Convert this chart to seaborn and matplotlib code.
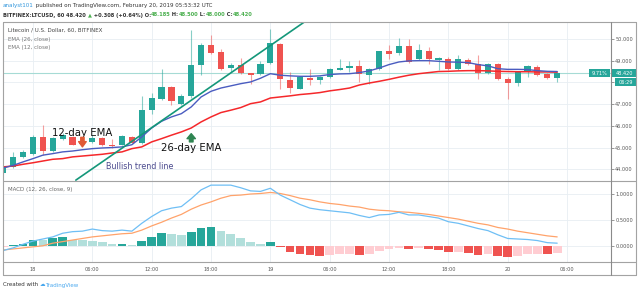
import numpy as np
import pandas as pd
import matplotlib
matplotlib.use('Agg')
import matplotlib.pyplot as plt
import seaborn as sns
from matplotlib.lines import Line2D
from matplotlib.patches import Rectangle

# LTCUSD hourly candles, Bitfinex, 17 Feb 21:00 -> 20 Feb 05:00 (UTC)
times = pd.date_range('2019-02-17 21:00', '2019-02-20 05:00', freq='h')

opens = [43.85, 44.12, 44.55, 44.72, 45.49, 44.83, 45.38, 45.49, 45.30, 45.26,
         45.44, 45.13, 45.13, 45.49, 45.23, 46.72, 47.25, 47.79, 47.02, 47.38,
         48.82, 49.74, 49.40, 48.66, 48.79, 48.43, 48.40, 48.91, 49.78, 48.10,
         47.71, 48.20, 48.10, 48.25, 48.59, 48.68, 48.74, 48.33, 48.63, 49.43,
         49.37, 49.68, 49.07, 49.45, 49.02, 49.09, 48.60, 49.02, 48.86, 48.45,
         48.86, 48.14, 47.97, 48.51, 48.71, 48.38, 48.185]
highs = [44.20, 44.80, 44.90, 45.60, 46.03, 45.50, 45.65, 45.55, 45.35, 45.57,
         45.50, 45.38, 45.58, 45.55, 47.38, 47.53, 48.63, 47.85, 47.48, 50.40,
         49.80, 50.20, 49.53, 48.90, 49.13, 48.45, 48.97, 50.45, 49.80, 48.48,
         48.30, 48.63, 48.28, 48.66, 49.09, 48.97, 49.02, 48.65, 49.45, 49.74,
         50.05, 50.01, 49.78, 49.63, 49.16, 49.17, 49.28, 49.13, 49.28, 48.90,
         48.90, 48.25, 48.52, 48.80, 48.79, 48.42, 48.50]
lows = [43.78, 44.05, 44.50, 44.65, 44.68, 44.80, 45.35, 45.10, 45.10, 45.20,
        45.05, 45.00, 45.10, 45.20, 45.18, 46.56, 47.18, 46.98, 46.98, 47.28,
        48.36, 49.30, 48.55, 48.48, 48.40, 47.94, 48.35, 48.85, 47.71, 47.53,
        47.68, 47.90, 47.94, 48.20, 48.55, 48.48, 48.02, 47.94, 48.58, 49.09,
        49.25, 48.90, 49.02, 48.86, 48.56, 48.55, 48.55, 48.82, 48.14, 48.40,
        48.10, 47.25, 47.84, 48.25, 48.30, 48.15, 48.00]
closes = [44.15, 44.57, 44.80, 45.49, 44.85, 45.44, 45.60, 45.13, 45.15, 45.44,
          45.10, 45.06, 45.52, 45.23, 46.72, 47.28, 47.79, 47.13, 47.38, 48.79,
          49.74, 49.37, 48.60, 48.79, 48.43, 48.33, 48.86, 49.83, 48.14, 47.74,
          48.25, 48.10, 48.25, 48.63, 48.68, 48.74, 48.40, 48.60, 49.43, 49.32,
          49.68, 48.94, 49.48, 49.07, 49.13, 48.60, 49.09, 48.86, 48.45, 48.86,
          48.14, 47.97, 48.48, 48.76, 48.36, 48.20, 48.42]

ema12 = [44.06, 44.18, 44.34, 44.49, 44.65, 44.72, 44.80, 44.84, 44.90, 44.95,
         44.98, 45.00, 45.03, 45.13, 45.49, 45.90, 46.21, 46.41, 46.56, 46.87,
         47.33, 47.59, 47.74, 47.84, 47.94, 48.02, 48.19, 48.40, 48.33, 48.30,
         48.28, 48.28, 48.30, 48.36, 48.39, 48.40, 48.45, 48.53, 48.66, 48.82,
         48.94, 48.99, 49.00, 49.00, 48.97, 48.94, 48.93, 48.91, 48.82, 48.76,
         48.63, 48.60, 48.60, 48.59, 48.54, 48.51, 48.50]
ema26 = [44.11, 44.15, 44.23, 44.30, 44.38, 44.46, 44.49, 44.57, 44.61, 44.65,
         44.69, 44.75, 44.80, 44.95, 45.03, 45.26, 45.41, 45.57, 45.72, 45.90,
         46.18, 46.41, 46.61, 46.72, 46.84, 47.02, 47.10, 47.28, 47.33, 47.38,
         47.44, 47.48, 47.53, 47.61, 47.67, 47.74, 47.88, 47.97, 48.05, 48.14,
         48.24, 48.33, 48.40, 48.45, 48.50, 48.51, 48.53, 48.54, 48.54, 48.53,
         48.51, 48.50, 48.49, 48.49, 48.48, 48.48, 48.47]

macd_line = [-0.08, -0.03, 0.04, 0.10, 0.14, 0.18, 0.25, 0.28, 0.29, 0.33,
             0.30, 0.29, 0.31, 0.29, 0.44, 0.57, 0.68, 0.73, 0.76, 0.91,
             1.08, 1.17, 1.17, 1.17, 1.12, 1.06, 1.05, 1.11, 0.98, 0.89,
             0.80, 0.73, 0.70, 0.68, 0.66, 0.64, 0.59, 0.55, 0.60, 0.61,
             0.65, 0.60, 0.60, 0.57, 0.54, 0.47, 0.44, 0.39, 0.34, 0.30,
             0.22, 0.15, 0.14, 0.13, 0.11, 0.07, 0.06]
signal_line = [-0.07, -0.05, -0.03, -0.01, 0.01, 0.06, 0.09, 0.12, 0.15, 0.18,
               0.20, 0.22, 0.24, 0.25, 0.31, 0.39, 0.46, 0.54, 0.61, 0.71,
               0.79, 0.85, 0.92, 0.97, 0.98, 1.00, 1.01, 1.03, 1.01, 0.97,
               0.92, 0.89, 0.85, 0.82, 0.80, 0.77, 0.75, 0.71, 0.69, 0.68,
               0.66, 0.65, 0.63, 0.61, 0.58, 0.55, 0.52, 0.48, 0.44, 0.41,
               0.36, 0.33, 0.29, 0.26, 0.23, 0.20, 0.18]
macd_hist = [-0.02, 0.02, 0.05, 0.125, 0.12, 0.15, 0.17, 0.13, 0.12, 0.10,
             0.08, 0.04, 0.05, 0.03, 0.10, 0.18, 0.25, 0.24, 0.22, 0.28,
             0.355, 0.36, 0.30, 0.24, 0.15, 0.08, 0.05, 0.09, -0.02, -0.11,
             -0.15, -0.17, -0.18, -0.17, -0.155, -0.15, -0.16, -0.14, -0.09, -0.06,
             -0.03, -0.05, -0.04, -0.06, -0.07, -0.115, -0.11, -0.13, -0.17, -0.15,
             -0.18, -0.21, -0.19, -0.15, -0.14, -0.155, -0.13]

price_ticks = [44, 45, 46, 47, 48, 49, 50]
# 48.000 sits under the countdown box in the screenshot
price_labels = ['44.000', '45.000', '46.000', '47.000', '', '49.000', '50.000']
macd_ticks = [0.0, 0.5, 1.0]
macd_labels = ['0.0000', '0.5000', '1.0000']
time_ticks = pd.date_range('2019-02-18', periods=10, freq='6h')
time_labels = ['18', '06:00', '12:00', '18:00', '19', '06:00', '12:00', '18:00', '20', '06:00']

# hand-drawn trend line (two anchor points)
trend_times = pd.to_datetime(['2019-02-18 04:20', '2019-02-19 03:30'])
trend_prices = [43.50, 50.80]

# ---------------------------------------------------------------------------
t0 = pd.Timestamp('2019-02-18')
hours = ((times - t0) / pd.Timedelta(hours=1)).to_numpy()
tick_hours = ((time_ticks - t0) / pd.Timedelta(hours=1)).to_numpy()
trend_hours = ((trend_times - t0) / pd.Timedelta(hours=1)).to_numpy()
opens, highs, lows, closes = map(np.array, (opens, highs, lows, closes))
macd_hist = np.array(macd_hist)

UP, DOWN = '#26a69a', '#ef5350'
GRID = '#e8eef3'
FRAME = '#a3a3a3'
TXT = '#555555'

sns.set_theme(style='white')
plt.rcParams['font.family'] = ['DejaVu Sans']

W, H = 640, 294
fig = plt.figure(figsize=(W / 100, H / 100), dpi=100)
fig.patch.set_facecolor('white')


def fx(px):
    return px / W


def fy(py):
    return 1 - py / H


ax = fig.add_axes([fx(3), fy(181), fx(611) - fx(3), fy(22) - fy(181)])
axm = fig.add_axes([fx(3), fy(262), fx(611) - fx(3), fy(181) - fy(262)], sharex=ax)

# --- price pane
up = closes >= opens
ccol = np.where(up, UP, DOWN)
ax.vlines(hours, lows, highs, colors=ccol, lw=0.8, alpha=0.55, zorder=3)
body = np.maximum(np.abs(closes - opens), 0.03)
ax.bar(hours, body, bottom=np.minimum(opens, closes), width=0.62,
       color=ccol, linewidth=0, zorder=4)

ax.axhline(closes[-1], color='#a6dbd5', lw=0.8, zorder=2)
sns.lineplot(x=hours, y=ema26, ax=ax, color='#f5282b', linewidth=1.1, zorder=5)
sns.lineplot(x=hours, y=ema12, ax=ax, color='#4a5cc0', linewidth=1.0, zorder=5)
ax.plot(trend_hours, trend_prices, color='#14977a', lw=1.2, zorder=6)

ax.set_xlim(-3.03, 58.44)
ax.set_ylim(43.46, 50.78)

ax.text(1.9, 45.67, '12-day EMA', fontsize=7.3, color='#111111', va='center', zorder=7)
ax.text(12.9, 44.96, '26-day EMA', fontsize=7.3, color='#111111', va='center', zorder=7)
ax.text(7.4, 44.15, 'Bullish trend line', fontsize=5.8, color='#4b4a8e', va='center', zorder=7)
ax.annotate('', xy=(5, 45.03), xytext=(5, 45.47),
            arrowprops=dict(arrowstyle='simple,head_length=0.38,head_width=0.55,tail_width=0.24',
                            color='#e05a35', shrinkA=0, shrinkB=0, mutation_scale=10), zorder=7)
ax.annotate('', xy=(16, 45.64), xytext=(16, 45.26),
            arrowprops=dict(arrowstyle='simple,head_length=0.36,head_width=0.6,tail_width=0.26',
                            color='#2f8552', shrinkA=0, shrinkB=0, mutation_scale=10), zorder=7)

# --- MACD pane
prev = np.r_[macd_hist[0], macd_hist[:-1]]
rising = macd_hist >= prev
hcol = np.where(macd_hist >= 0,
                np.where(rising, '#26a69a', '#b2dfdb'),
                np.where(rising, '#ffcdd2', '#ef5350'))
axm.bar(hours, macd_hist, width=0.88, color=hcol, linewidth=0, zorder=3)
sns.lineplot(x=hours, y=signal_line, ax=axm, color='#ffa36b', linewidth=0.9, zorder=4)
sns.lineplot(x=hours, y=macd_line, ax=axm, color='#6fbff5', linewidth=0.9, zorder=5)
axm.set_ylim(-0.30, 1.249)

# --- axes cosmetics
for a in (ax, axm):
    for s in a.spines.values():
        s.set_visible(False)
    a.set_facecolor('white')
    a.set_xlabel('')
    a.set_ylabel('')
    a.grid(True, color=GRID, lw=0.6, zorder=0)
    a.set_axisbelow(True)
    a.yaxis.tick_right()
    a.tick_params(axis='y', which='both', right=True, left=False, labelleft=False,
                  labelright=True, direction='out', length=2, width=0.6,
                  color='#888888', labelsize=3.6, labelcolor=TXT, pad=1)

ax.set_yticks(price_ticks, price_labels)
axm.set_yticks(macd_ticks, macd_labels)
axm.set_xticks(tick_hours, time_labels)
ax.tick_params(axis='x', bottom=False, labelbottom=False)
axm.tick_params(axis='x', bottom=False, labelbottom=True, length=0,
                labelsize=3.6, labelcolor=TXT, pad=3.4)

# --- frame lines
def hline(y, x0, x1, c=FRAME, lw=0.8):
    fig.add_artist(Line2D([fx(x0), fx(x1)], [fy(y), fy(y)], transform=fig.transFigure, color=c, lw=lw))


def vline(x, y0, y1, c=FRAME, lw=0.8):
    fig.add_artist(Line2D([fx(x), fx(x)], [fy(y0), fy(y1)], transform=fig.transFigure, color=c, lw=lw))


hline(22, 3, 636)
hline(275, 3, 636)
hline(181, 3, 636)
hline(262, 3, 636)
vline(3, 22, 275)
vline(636, 22, 275)
vline(611, 22, 275, c='#8a8a8a')

# --- last price labels
fig.canvas.draw()
yc = fig.transFigure.inverted().transform(ax.transData.transform((0, closes[-1])))[1]


def box(x0, x1, ymid, h, text):
    fig.add_artist(Rectangle((fx(x0), ymid - h / 2 / H), (x1 - x0) / W, h / H,
                             transform=fig.transFigure, fc=UP, ec='none'))
    fig.text(fx((x0 + x1) / 2), ymid, text, ha='center', va='center',
             color='white', fontsize=3.6)


box(589, 610, yc, 8, '9.71%')
box(611, 637, yc, 8, f'{closes[-1]:.3f}')
box(615, 637, yc - 9 / H, 8, '06:29')

# --- legends inside panes
fig.text(fx(8), fy(30), 'Litecoin / U.S. Dollar, 60, BITFINEX', fontsize=4.0,
         color='#444444', va='center')
fig.text(fx(8), fy(39), 'EMA (26, close)', fontsize=4.0, color='#777777', va='center')
fig.text(fx(8), fy(47.3), 'EMA (12, close)', fontsize=4.0, color='#777777', va='center')
fig.text(fx(8), fy(190), 'MACD (12, 26, close, 9)', fontsize=4.0, color='#666666', va='center')

# --- header and footer (multi-coloured runs)
renderer = fig.canvas.get_renderer()


def runs(x, y, pieces, **kw):
    for s, c in pieces:
        t = fig.text(fx(x), fy(y), s, color=c, va='center', **kw)
        x += t.get_window_extent(renderer=renderer).width


DARK, GREEN, BLUE = '#333333', '#4cb050', '#2f95dc'
runs(3, 6, [('analyst101', BLUE),
            (' published on TradingView.com, February 20, 2019 05:53:32 UTC', DARK)],
     fontsize=4.0)
runs(3, 15, [('BITFINEX:LTCUSD, 60 48.420 ', DARK), ('▲', GREEN),
             (' +0.308 (+0.64%) O:', DARK), ('48.185', GREEN), (' H:', DARK),
             ('48.500', GREEN), (' L:', DARK), ('48.000', GREEN), (' C:', DARK),
             ('48.420', GREEN)],
     fontsize=3.7, fontweight='bold')
runs(3, 285, [('Created with ', DARK), ('☁', '#4aa8ee'), ('TradingView', '#4aa8ee')],
     fontsize=4.0)

fig.savefig('out.png', dpi=100, facecolor='white')
